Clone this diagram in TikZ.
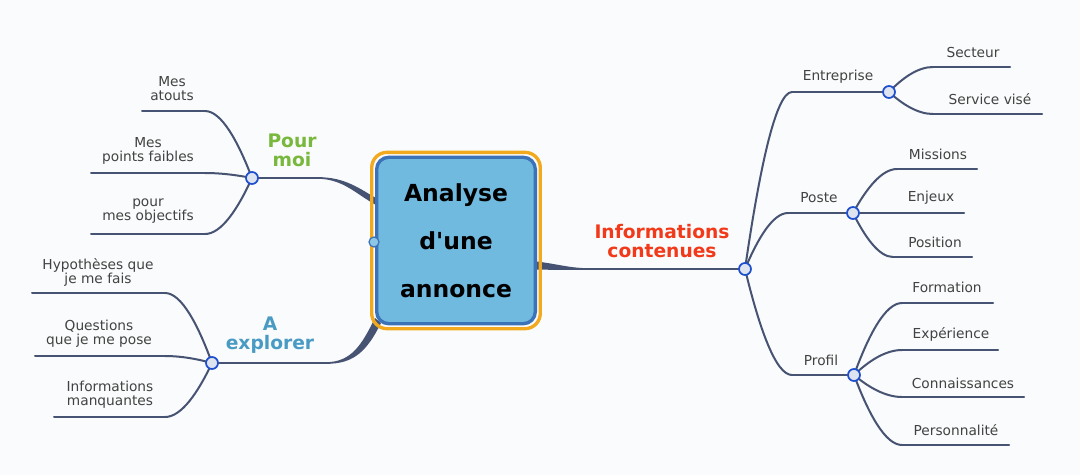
\documentclass[tikz,border=0pt]{standalone}
\usepackage{fontspec}
\setmainfont{DejaVu Sans}
\usetikzlibrary{calc}
\font\qfont="DejaVu Sans/B" at 17.6pt
\pgfdeclarelayer{bg}
\pgfdeclarelayer{links}
\pgfsetlayers{bg,links,main}
\definecolor{bgc}{HTML}{FAFBFC}
\definecolor{linkc}{HTML}{475372}
\definecolor{hubfill}{HTML}{DDE3EF}
\definecolor{hubline}{HTML}{1E4FCF}
\definecolor{leafc}{HTML}{424242}
\definecolor{cfill}{HTML}{70B9DF}
\definecolor{cblue}{HTML}{3B72B8}
\definecolor{corange}{HTML}{F2A91E}
\definecolor{pmc}{HTML}{78B83C}
\definecolor{aec}{HTML}{4A9BC4}
\definecolor{icc}{HTML}{F23A1A}
\newcommand\brlink[2]{\draw[link] let \p1=(#1), \p2=(#2) in (\p1) .. controls ({\x1+0.3*(\x2-\x1)},{\y1+0.55*(\y2-\y1)}) and ({\x2-0.35*(\x2-\x1)},\y2) .. (\p2);}
\begin{document}
\begin{tikzpicture}[x=0.75pt,y=-0.75pt,
  link/.style={draw=linkc, line width=1.5pt, line cap=round},
  hub/.style={circle, draw=hubline, fill=hubfill, line width=1.3pt, minimum size=9pt, inner sep=0pt},
  port/.style={circle, draw=cblue, fill=cfill!80!white, line width=0.9pt, minimum size=7.5pt, inner sep=0pt},
  leaf/.style={font=\fontsize{10.3}{10.6}\selectfont, text=leafc, align=center, inner sep=0pt},
  topic/.style={font=\fontsize{14}{14.2}\selectfont\bfseries, align=center, inner sep=0pt},
  cbox/.style={rounded corners=9pt, fill=cfill, draw=cblue, line width=2.5pt,
    minimum width=119pt, minimum height=124.8pt, align=center, inner sep=0pt,
    font=\fontsize{17.6}{36}\selectfont\bfseries, text=black}]
\useasboundingbox (0,0) rectangle (1080,475);
\begin{pgfonlayer}{bg}
\fill[bgc] (0,0) rectangle (1080,475);
\end{pgfonlayer}

% hubs
\node[hub] (hPM) at (252,178) {};
\node[hub] (hAE) at (212,363) {};
\node[hub] (hIC) at (745,269) {};
\node[hub] (hEnt) at (889,92) {};
\node[hub] (hPos) at (853,213) {};
\node[hub] (hPro) at (854,375) {};

% leaf line end points
\coordinate (pmA1) at (205,111); \coordinate (pmA2) at (142,111);
\coordinate (pmB1) at (205,173); \coordinate (pmB2) at (91,173);
\coordinate (pmC1) at (205,234); \coordinate (pmC2) at (91,234);
\coordinate (aeA1) at (165,293); \coordinate (aeA2) at (32,293);
\coordinate (aeB1) at (165,356); \coordinate (aeB2) at (35,356);
\coordinate (aeC1) at (165,417); \coordinate (aeC2) at (54,417);
\coordinate (ent1) at (792,92);
\coordinate (pos1) at (788,213);
\coordinate (pro1) at (792,375);
\coordinate (sec1) at (933,67);  \coordinate (sec2) at (1010,67);
\coordinate (ser1) at (933,114); \coordinate (ser2) at (1042,114);
\coordinate (mis1) at (897,169); \coordinate (mis2) at (977,169);
\coordinate (enj1) at (897,213); \coordinate (enj2) at (964,213);
\coordinate (psn1) at (893,257); \coordinate (psn2) at (972,257);
\coordinate (for1) at (902,303); \coordinate (for2) at (993,303);
\coordinate (exp1) at (902,350); \coordinate (exp2) at (998,350);
\coordinate (con1) at (902,397); \coordinate (con2) at (1024,397);
\coordinate (per1) at (902,445); \coordinate (per2) at (1009,445);
\coordinate (pmT) at (322,178);
\coordinate (aeT) at (330,363);
\coordinate (icT) at (588,269);

% central box
\node[cbox] (core) at (456,240.5) {Analyse\\d{\qfont'}une\\annonce};
\draw[corange, line width=2.5pt, rounded corners=11.5pt]
  ($(core.south west)+(-3.3,3.3)$) rectangle ($(core.north east)+(3.3,-3.3)$);
\node[port] (corePort) at (374,242) {};

\begin{pgfonlayer}{links}
% topic connectors
\draw[link] (hPM) -- (pmT);
\fill[linkc] ($(pmT)+(-4,-0.8)$) .. controls (345,177) and (360,189) .. (376,198)
  -- (376,205) .. controls (356,194) and (343,179) .. ($(pmT)+(-4,0.8)$) -- cycle;
\draw[link] (hAE) -- (aeT);
\fill[linkc] ($(aeT)+(-4,-0.8)$) .. controls (352,362) and (362,344) .. (375,318)
  -- (381,323) .. controls (367,351) and (354,364) .. ($(aeT)+(-4,0.8)$) -- cycle;
\draw[link] (hIC) -- (icT);
\fill[linkc] (537,261.5) .. controls (560,264.5) and (570,268.2) .. ($(icT)+(2,-0.8)$)
  -- ($(icT)+(2,0.8)$) .. controls (570,270) and (556,270) .. (537,269.5) -- cycle;
% left leaves
\brlink{hPM}{pmA1} \draw[link] (pmA1) -- (pmA2);
\brlink{hPM}{pmB1} \draw[link] (pmB1) -- (pmB2);
\brlink{hPM}{pmC1} \draw[link] (pmC1) -- (pmC2);
\brlink{hAE}{aeA1} \draw[link] (aeA1) -- (aeA2);
\brlink{hAE}{aeB1} \draw[link] (aeB1) -- (aeB2);
\brlink{hAE}{aeC1} \draw[link] (aeC1) -- (aeC2);
% right subtopics
\brlink{hIC}{ent1} \draw[link] (ent1) -- (hEnt);
\brlink{hIC}{pos1} \draw[link] (pos1) -- (hPos);
\brlink{hIC}{pro1} \draw[link] (pro1) -- (hPro);
\brlink{hEnt}{sec1} \draw[link] (sec1) -- (sec2);
\brlink{hEnt}{ser1} \draw[link] (ser1) -- (ser2);
\brlink{hPos}{mis1} \draw[link] (mis1) -- (mis2);
\draw[link] (hPos) -- (enj1) -- (enj2);
\brlink{hPos}{psn1} \draw[link] (psn1) -- (psn2);
\brlink{hPro}{for1} \draw[link] (for1) -- (for2);
\brlink{hPro}{exp1} \draw[link] (exp1) -- (exp2);
\brlink{hPro}{con1} \draw[link] (con1) -- (con2);
\brlink{hPro}{per1} \draw[link] (per1) -- (per2);
\end{pgfonlayer}

% topic labels
\node[topic, text=pmc] (tPM) at (292,150.5) {Pour\\moi};
\node[topic, text=aec] (tAE) at (270,335.5) {A\\explorer};
\node[topic, text=icc] (tIC) at (662,241.5) {Informations\\contenues};

% leaf labels
\node[leaf] (lA) at (172,89) {Mes\\atouts};
\node[leaf] (lB) at (148,150.5) {Mes\\points faibles};
\node[leaf] (lC) at (148,211.5) {pour\\mes objectifs};
\node[leaf] (lD) at (98,272) {Hypothèses que\\je me fais};
\node[leaf] (lE) at (99,333.5) {Questions\\que je me pose};
\node[leaf] (lF) at (110,395) {Informations\\manquantes};
\node[leaf] (lEnt) at (838,77) {Entreprise};
\node[leaf] (lPos) at (819,198) {Poste};
\node[leaf] (lPro) at (821,360) {Profil};
\node[leaf] (lSec) at (973,52) {Secteur};
\node[leaf] (lSer) at (990,99) {Service visé};
\node[leaf] (lMis) at (938,154) {Missions};
\node[leaf] (lEnj) at (931,198) {Enjeux};
\node[leaf] (lPsn) at (935,242) {Position};
\node[leaf] (lFor) at (947,287) {Formation};
\node[leaf] (lExp) at (951,334) {Expérience};
\node[leaf] (lCon) at (963,383) {Connaissances};
\node[leaf] (lPer) at (956,430) {Personnalité};
\end{tikzpicture}
\end{document}
